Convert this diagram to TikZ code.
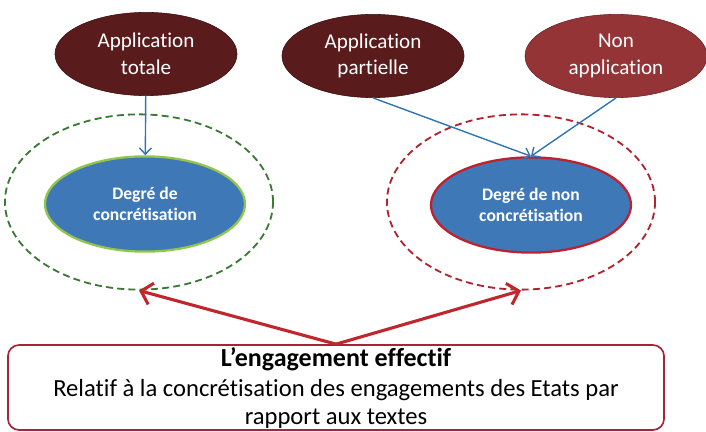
\documentclass[tikz,border=0pt]{standalone}
\usepackage{fontspec}
\setmainfont{Carlito}[Ligatures=NoCommon]
\usepackage{tikz}
\usetikzlibrary{shapes,arrows,arrows.meta,positioning,calc}
\definecolor{brunfonce}{HTML}{5A1B1C}
\definecolor{brunbord}{HTML}{3C0E10}
\definecolor{rougeclair}{HTML}{953436}
\definecolor{rougeclairbord}{HTML}{6E1F22}
\definecolor{bleudeg}{HTML}{3F78B7}
\definecolor{vertclair}{HTML}{92C64A}
\definecolor{vertzone}{HTML}{3A7A34}
\definecolor{rougevif}{HTML}{C0202C}
\definecolor{rougezone}{HTML}{B2232F}
\definecolor{rougebox}{HTML}{A8233A}
\definecolor{rougefl}{HTML}{C0262D}
\definecolor{bleufl}{HTML}{2E75B6}
\tikzset{
  ellnode/.style = {ellipse, align=center, inner sep=0pt, text centered},
  app_d/.style = {ellnode, white, draw=brunbord, fill=brunfonce, minimum width=4.55cm, minimum height=2.08cm, font=\fontsize{15}{19}\selectfont},
  app_l/.style = {app_d, draw=rougeclairbord, fill=rougeclair},
  deg_n/.style = {ellnode, white, fill=bleudeg, minimum width=5cm, minimum height=2.38cm, line width=1.6pt, font=\bfseries\fontsize{12.5}{15}\selectfont},
  deg_g/.style = {deg_n, draw=vertclair},
  deg_r/.style = {deg_n, draw=rougevif},
  zone/.style = {ellnode, minimum width=6.7cm, minimum height=4.38cm, dash pattern=on 5pt off 3pt, line width=1.3pt},
  zone_g/.style = {zone, draw=vertzone},
  zone_r/.style = {zone, draw=rougezone},
  engbox/.style = {rectangle, rounded corners=8pt, draw=rougebox, line width=1.2pt, minimum width=16.4cm, minimum height=2.125cm, inner sep=0pt},
  engtxt/.style = {align=center, inner sep=0pt, font=\fontsize{17.5}{20.3}\selectfont},
  fl_bleu/.style = {draw=bleufl, line width=1pt, -{Straight Barb[length=1.6mm,width=3mm]}},
  fl_rouge/.style = {draw=rougefl, line width=2.2pt, -{Straight Barb[length=2.6mm,width=5.5mm]}}
}
\begin{document}
\begin{tikzpicture}[x=0.025cm, y=-0.025cm]
  \useasboundingbox (0,0) rectangle (706,432);
  \node [zone_g] (zg) at (139,202) {};
  \node [zone_r] (zr) at (521,202) {};
  \node [deg_g] (dc) at (145,204) {Degré de\\concrétisation};
  \node [deg_r] (dn) at (531,205) {Degré de non\\concrétisation};
  \node [app_d] (at) at (146,54) {Application\\totale};
  \node [app_d] (ap) at (373,56) {Application\\partielle};
  \node [app_l] (na) at (616,56) {Non\\application};
  \node [engbox] (eng) at (336,387.5) {};
  \node [engtxt] (engt) at (336,388) {{\bfseries\fontsize{18.5}{21}\selectfont L’engagement effectif}\\[1pt]
    Relatif à la concrétisation des engagements des Etats par\\
    rapport aux textes};
  % fleches
  \draw [fl_bleu] (at) -- (dc);
  \draw [fl_bleu] (ap.south) -- (dn.north);
  \draw [fl_bleu] (na.south) -- (dn.north);
  \draw [fl_rouge] (eng.north) -- (zg.south);
  \draw [fl_rouge] (eng.north) -- (zr.south);
\end{tikzpicture}
\end{document}
